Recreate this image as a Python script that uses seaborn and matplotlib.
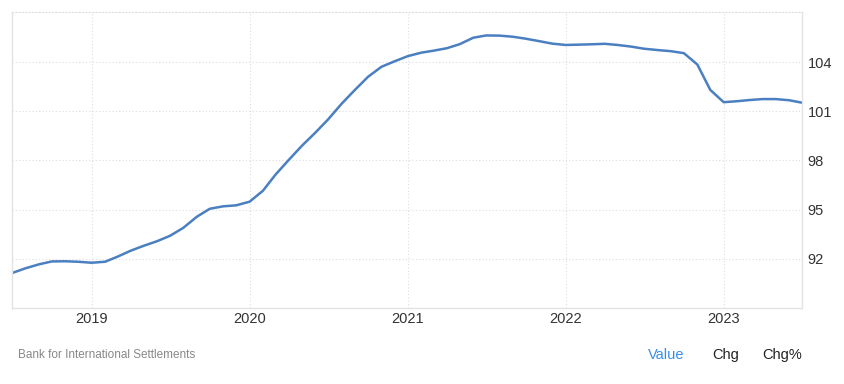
import pandas as pd
import matplotlib.pyplot as plt
import matplotlib.dates as mdates
import seaborn as sns

# Monthly index values, Jul 2018 - Jul 2023
start_month = "2018-07-01"
values = [
    91.13, 91.42, 91.66, 91.84, 91.85, 91.82,   # 2018 H2
    91.76, 91.82, 92.12, 92.49, 92.79, 93.07,   # 2019 H1
    93.40, 93.89, 94.56, 95.05, 95.20, 95.26,   # 2019 H2
    95.48, 96.15, 97.13, 98.04, 98.89, 99.69,   # 2020 H1
    100.51, 101.46, 102.31, 103.10, 103.71, 104.04,  # 2020 H2
    104.36, 104.57, 104.69, 104.84, 105.09, 105.48,  # 2021 H1
    105.62, 105.61, 105.54, 105.42, 105.27, 105.12,  # 2021 H2
    105.04, 105.06, 105.08, 105.11, 105.04, 104.94,  # 2022 H1
    104.81, 104.73, 104.66, 104.54, 103.85, 102.30,  # 2022 H2
    101.55, 101.61, 101.68, 101.74, 101.74, 101.67,  # 2023 H1
    101.52,
]
y_ticks = [92, 95, 98, 101, 104]

source_label = "Bank for International Settlements"
tab_labels = ["Value", "Chg", "Chg%"]

dates = pd.date_range(start_month, periods=len(values), freq="MS")
df = pd.DataFrame({"date": dates, "value": values})

sns.set_style("white")
plt.rcParams['font.family'] = ['Liberation Sans', 'DejaVu Sans']

fig = plt.figure(figsize=(8.44, 3.84), dpi=100)
ax = fig.add_axes([12 / 844, 1 - 308 / 384, (802 - 12) / 844, (308 - 12) / 384])

sns.lineplot(data=df, x="date", y="value", ax=ax, color="#4a7fc1", linewidth=1.8)

ax.set_xlim(dates[0], dates[-1])
ax.set_ylim(89.0, 107.05)

# axes styling
ax.xaxis.set_major_locator(mdates.YearLocator())
ax.xaxis.set_major_formatter(mdates.DateFormatter("%Y"))
ax.set_yticks(y_ticks)
ax.yaxis.tick_right()
ax.tick_params(axis="both", length=0, labelsize=10.5, colors="#333333")
ax.tick_params(axis="y", pad=4)
ax.tick_params(axis="x", pad=3)
ax.set_xlabel("")
ax.set_ylabel("")

ax.grid(True, linestyle=(0, (1, 2)), color="#dddddd", linewidth=0.8)
for side in ["left", "right", "bottom"]:
    ax.spines[side].set_color("#e3e3e3")
    ax.spines[side].set_linewidth(1.0)
ax.spines["top"].set_linestyle((0, (1, 2)))
ax.spines["top"].set_color("#dddddd")
ax.spines["top"].set_linewidth(0.8)

# footer
fig.text(18 / 844, 1 - 355 / 384, source_label, fontsize=8.5, color="#888888",
         ha="left", va="center")
tab_x = [648, 712, 762]
tab_colors = ["#3a8ee6", "#222222", "#222222"]
for label, x, c in zip(tab_labels, tab_x, tab_colors):
    fig.text(x / 844, 1 - 355 / 384, label, fontsize=10.5, color=c,
             ha="left", va="center")

fig.savefig("out.png", dpi=100)
